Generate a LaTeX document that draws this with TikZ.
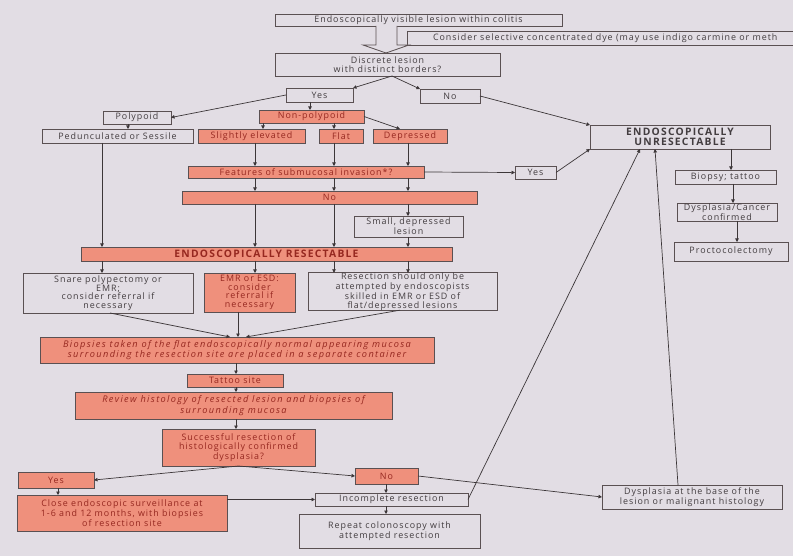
\documentclass[tikz,border=0pt]{standalone}
\usepackage{fontspec}
\setmainfont{Open Sans}[LetterSpace=11]
\newfontfamily\bigfont{Open Sans}[LetterSpace=12]
\newfontfamily\itfont{Open Sans Italic}[LetterSpace=15]
\usetikzlibrary{arrows.meta,calc}
\definecolor{bg}{HTML}{E2DDE4}
\definecolor{salmon}{HTML}{EF907C}
\definecolor{bord}{HTML}{5A5052}
\definecolor{linec}{HTML}{3C3638}
\definecolor{txtg}{HTML}{433D40}
\definecolor{txtr}{HTML}{962820}
\newcommand\bx[7]{\node[#6,minimum width={#4-#2},minimum height={#5-#3}] (#1) at ({(#2+#4)/2},{(#3+#5)/2}) {#7};}
\tikzset{
  box/.style={draw=bord,line width=0.8pt,fill=bg,text=txtg,font=\fontsize{8.9}{8.6}\selectfont,align=center,inner sep=0pt,outer sep=0pt},
  sbox/.style={box,fill=salmon,text=txtr},
  bigtxt/.style={font=\bigfont\fontsize{10.3}{10.3}\selectfont\bfseries},
  ittxt/.style={font=\itfont\fontsize{9.2}{9}\selectfont},
  arr/.style={draw=linec,line width=0.7pt,-{Triangle[length=3.5pt,width=3.5pt]}},
}
\begin{document}
\begin{tikzpicture}[x=1pt,y=-1pt]
\useasboundingbox (0,0) rectangle (793,556);
\clip (0,0) rectangle (793,556);
\fill[bg] (0,0) rectangle (793,556);
% boxes
\bx{top}{275}{14}{562}{26}{box}{Endoscopically visible lesion within colitis}
\draw[box] (810,31) -- (407,31) -- (407,45) -- (810,45);
\node[box,draw=none,fill=none,anchor=west] (dye) at (433,38) {Consider selective concentrated dye (may use indigo carmine or meth};
\bx{disc}{275}{53}{500}{76}{box}{Discrete lesion\\with distinct borders?}
\bx{yes}{286}{88}{353}{102}{box}{Yes}
\bx{no}{420}{89}{480}{103}{box}{No}
\bx{poly}{103}{111}{171}{124}{box}{Polypoid}
\bx{np}{259}{110}{364}{123}{sbox}{Non-polypoid}
\bx{ped}{42}{129}{193}{143}{box}{Pedunculated or Sessile}
\bx{sle}{198}{129}{305}{143}{sbox}{Slightly elevated}
\bx{flat}{319}{129}{363}{143}{sbox}{Flat}
\bx{dep}{373}{129}{447}{143}{sbox}{Depressed}
\bx{feat}{188}{166}{424}{178}{sbox}{Features of submucosal invasion*?}
\bx{nobar}{182}{191}{477}{204}{sbox}{No}
\bx{small}{354}{216}{463}{237}{box}{Small, depressed\\lesion}
\bx{resect}{81}{247}{452}{261}{sbox,bigtxt}{ENDOSCOPICALLY RESECTABLE}
\bx{snare}{23}{273}{193}{313}{box}{Snare polypectomy or\\EMR;\\consider referral if\\necessary}
\bx{emr}{204}{273}{295}{312}{sbox}{EMR or ESD:\\consider\\referral if\\necessary}
\bx{resonly}{308}{273}{497}{310}{box}{Resection should only be\\attempted by endoscopists\\skilled in EMR or ESD of\\flat/depressed lesions}
\bx{bio}{40}{337}{434}{363}{sbox,ittxt}{Biopsies taken of the flat endoscopically normal appearing mucosa\\surrounding the resection site are placed in a separate container}
\bx{tat}{187}{374}{283}{387}{sbox}{Tattoo site}
\bx{rev}{75}{392}{392}{419}{sbox,ittxt}{Review histology of resected lesion and biopsies of\\surrounding mucosa}
\bx{succ}{162}{429}{315}{466}{sbox}{Successful resection of\\histologically confirmed\\dysplasia?}
\bx{yes2}{18}{472}{94}{488}{sbox}{Yes}
\bx{no2}{355}{468}{418}{484}{sbox}{No}
\bx{close}{17}{495}{227}{531}{sbox}{Close endoscopic surveillance at\\1-6 and 12 months, with biopsies\\of resection site}
\bx{inc}{315}{493}{468}{506}{box}{Incomplete resection}
\bx{rep}{299}{514}{480}{548}{box}{Repeat colonoscopy with\\attempted resection}
\bx{dys}{602}{485}{782}{509}{box}{Dysplasia at the base of the\\lesion or malignant histology}
\bx{unres}{590}{125}{770}{149}{box,bigtxt}{ENDOSCOPICALLY\\UNRESECTABLE}
\bx{yesr}{515}{166}{556}{179}{box}{Yes}
\bx{biop}{675}{170}{776}{184}{box}{Biopsy; tattoo}
\bx{dca}{677}{203}{777}{221}{box}{Dysplasia/Cancer\\confirmed}
\bx{proc}{674}{242}{788}{261}{box}{Proctocolectomy}
% hollow arrow
\draw[draw=bord,line width=0.8pt,fill=bg] (376,26) -- (376,45) -- (363,45) -- (386,53) -- (409,45) -- (397,45) -- (397,26);
% column coordinates
\coordinate (xD) at (392,0);
\coordinate (xP) at (102,0);
\coordinate (xA) at (255,0);
\coordinate (xB) at (334,0);
\coordinate (xC) at (408,0);
\coordinate (xY) at (310,0);
\coordinate (xS) at (263,0);
\coordinate (xPo) at (128,0);
\coordinate (xDep) at (400,0);
\coordinate (xE) at (238,0);
\coordinate (xM) at (236,0);
\coordinate (xSn) at (110,0);
\coordinate (xBl) at (230,0);
\coordinate (xBr) at (246,0);
\coordinate (xRo) at (400,0);
\coordinate (xY2) at (58,0);
\coordinate (xN2) at (386,0);
\coordinate (xR1) at (731,0);
\coordinate (xR2) at (733,0);
\coordinate (xR3) at (737,0);
\coordinate (xU1) at (640,0);
\coordinate (xU2) at (655,0);
\coordinate (xDy) at (678,0);
% connectors
\draw[arr] (disc.south -| xD) -- (yes.north east);
\draw[arr] (disc.south -| xD) -- (no.north west);
\draw[arr] (yes.west) -- (poly.east);
\draw[arr] (yes.south -| xY) -- (np.north -| xY);
\draw[arr] (no.east) -- (unres.north west);
\draw[arr] (poly.south -| xPo) -- (ped.north -| xPo);
\draw[arr] (np.south -| xS) -- (sle.north -| xS);
\draw[arr] (np.south -| xB) -- (flat.north -| xB);
\draw[arr] (np.east) -- (dep.north -| xDep);
\draw[arr] (sle.south -| xA) -- (feat.north -| xA);
\draw[arr] (flat.south -| xB) -- (feat.north -| xB);
\draw[arr] (dep.south -| xC) -- (feat.north -| xC);
\draw[arr] (feat.south -| xA) -- (nobar.north -| xA);
\draw[arr] (feat.south -| xB) -- (nobar.north -| xB);
\draw[arr] (feat.south -| xC) -- (nobar.north -| xC);
\draw[arr] (feat.east) -- (yesr.west);
\draw[arr] (yesr.east) -- (unres.south west);
\draw[arr] (nobar.south -| xA) -- (resect.north -| xA);
\draw[arr] (nobar.south -| xB) -- (resect.north -| xB);
\draw[arr] (nobar.south -| xC) -- (small.north -| xC);
\draw[arr] (small.south -| xC) -- (resect.north -| xC);
\draw[arr] (ped.south -| xP) -- (resect.north -| xP);
\draw[arr] (resect.south -| xP) -- (snare.north -| xP);
\draw[arr] (resect.south -| xA) -- (emr.north -| xA);
\draw[arr] (resect.south -| xB) -- (resonly.north -| xB);
\draw[arr] (resect.south -| xC) -- (resonly.north -| xC);
\draw[arr] (snare.south -| xSn) -- (bio.north -| xBl);
\draw[arr] (emr.south -| xE) -- (bio.north -| xE);
\draw[arr] (resonly.south -| xRo) -- (bio.north -| xBr);
\draw[arr] (bio.south -| xM) -- (tat.north -| xM);
\draw[arr] (tat.south -| xM) -- (rev.north -| xM);
\draw[arr] (rev.south -| xM) -- (succ.north -| xM);
\draw[arr] (succ.south) -- (yes2.east);
\draw[arr] (succ.south) -- (no2.west);
\draw[arr] (yes2.south -| xY2) -- (close.north -| xY2);
\draw[arr] (no2.south -| xN2) -- (inc.north -| xN2);
\draw[arr] (no2.east) -- (dys.west);
\draw[arr] (close.east |- inc.west) -- (inc.west);
\draw[arr] (inc.south -| xN2) -- (rep.north -| xN2);
\draw[arr] (inc.east) -- (unres.south -| xU1);
\draw[arr] (dys.north -| xDy) -- (unres.south -| xU2);
\draw[arr] (unres.south -| xR1) -- (biop.north -| xR1);
\draw[arr] (biop.south -| xR2) -- (dca.north -| xR2);
\draw[arr] (dca.south -| xR3) -- (proc.north -| xR3);
\end{tikzpicture}
\end{document}
